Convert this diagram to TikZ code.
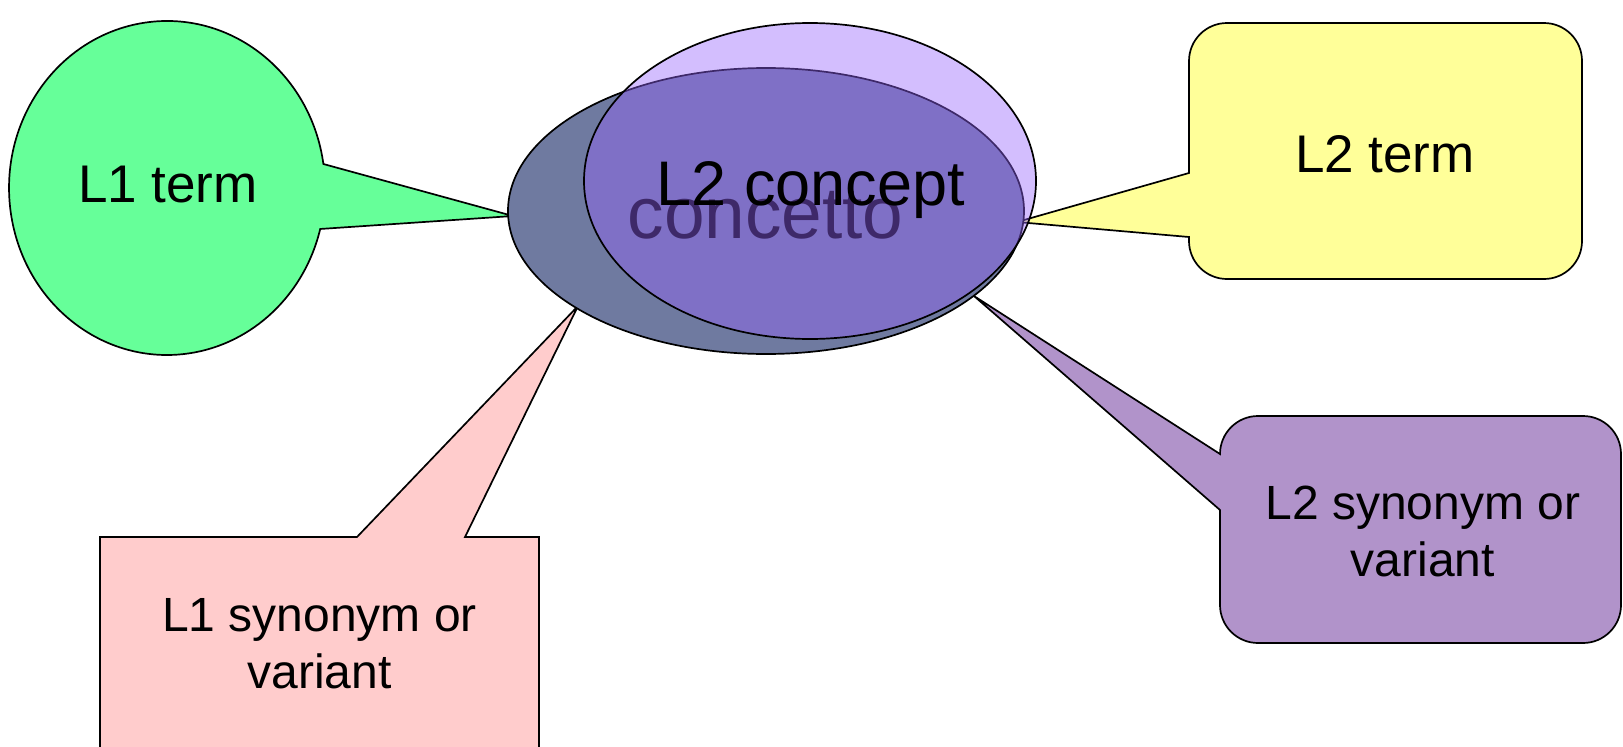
\documentclass[tikz,border=0pt]{standalone}
\usepackage{fontspec}
\setmainfont{Liberation Sans}
\definecolor{bubblegreen}{RGB}{102,255,153}
\definecolor{noteyellow}{RGB}{255,255,153}
\definecolor{notepink}{RGB}{255,204,204}
\definecolor{notepurple}{RGB}{177,147,202}
\definecolor{slateblue}{RGB}{111,122,160}
\definecolor{veilviolet}{RGB}{150,100,252}
\begin{document}
\begin{tikzpicture}[x=1pt,y=-1pt,
  outline/.style={draw=black, line width=1.7pt, line join=miter},
  txt/.style={inner sep=0pt, text=black},
  bigtxt/.style={txt, font=\fontsize{53}{60}\selectfont},
  twoline/.style={txt, align=center, font=\fontsize{48}{57}\selectfont}]
\useasboundingbox (0,0) rectangle (1623,747);
\clip (0,0) rectangle (1623,747);

% callouts, drawn beneath the concept ellipses
\draw[outline, fill=bubblegreen] (323.4,164)
  arc[start angle=-8.26, end angle=-345.79, x radius=158, y radius=167]
  -- (513,216) -- cycle;
\draw[outline, fill=noteyellow] (1189,173) -- (1189,61)
  arc[start angle=180, end angle=270, radius=38] -- (1544,23)
  arc[start angle=270, end angle=360, radius=38] -- (1582,241)
  arc[start angle=0, end angle=90, radius=38] -- (1227,279)
  arc[start angle=90, end angle=180, radius=38] -- (1189,237)
  -- (1017,222) -- cycle;
\draw[outline, fill=notepurple] (1220,454) -- (974,296) -- (1220,510) -- (1220,605)
  arc[start angle=180, end angle=90, radius=38] -- (1583,643)
  arc[start angle=90, end angle=0, radius=38] -- (1621,454)
  arc[start angle=0, end angle=-90, radius=38] -- (1258,416)
  arc[start angle=-90, end angle=-180, radius=38] -- cycle;
\draw[outline, fill=notepink] (100,537) -- (357,537) -- (578,306) -- (465,537)
  -- (539,537) -- (539,760) -- (100,760) -- cycle;

% L1 concept ellipse with its label
\draw[outline, fill=slateblue] (766,211) ellipse [x radius=258, y radius=143];
\node[txt, font=\fontsize{73}{80}\selectfont, anchor=base] (concetto) at (765.5,238) {concetto};

% translucent L2 concept ellipse on top
\fill[veilviolet, fill opacity=0.42] (810,181) ellipse [x radius=226, y radius=158];
\draw[outline] (810,181) ellipse [x radius=226, y radius=158];
\node[txt, font=\fontsize{63}{70}\selectfont, anchor=base] (l2concept) at (811,205) {L2 concept};

% callout texts
\node[bigtxt, anchor=base] (l1term) at (168,202) {L1 term};
\node[bigtxt, anchor=base] (l2term) at (1385,172) {L2 term};
\node[twoline] (l2syn) at (1423,531) {L2 synonym or\\variant};
\node[twoline] (l1syn) at (319.5,644) {L1 synonym or\\variant};
\end{tikzpicture}
\end{document}
